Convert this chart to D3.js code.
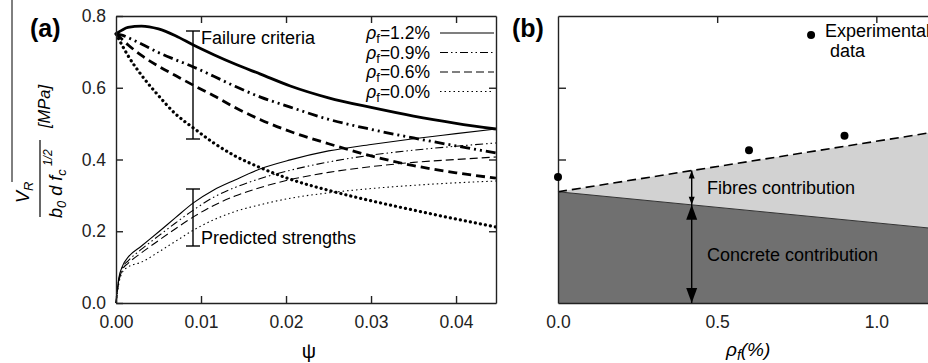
<!DOCTYPE html>
<html>
<head>
<meta charset="utf-8">
<script src="https://cdn.jsdelivr.net/npm/d3@7"></script>
<style>
  body { margin: 0; background: #fff; }
  svg { display: block; font-family: "Liberation Sans", Arial, sans-serif; }
</style>
</head>
<body>
<div id="chart"></div>
<script>
// ---- panel (a): shear strength vs psi ----
const psiGrid = [0, 0.0003, 0.0008, 0.0014, 0.003, 0.005, 0.007, 0.0091, 0.0115, 0.014, 0.017, 0.0205, 0.025, 0.03, 0.035, 0.04, 0.0447];

// failure criteria (thick lines)
const fail12 = [0.75, 0.755, 0.762, 0.768, 0.772, 0.764, 0.745, 0.719, 0.692, 0.666, 0.638, 0.605, 0.572, 0.545, 0.521, 0.501, 0.485];
const fail09 = [0.75, 0.749, 0.746, 0.74, 0.722, 0.698, 0.678, 0.658, 0.632, 0.604, 0.574, 0.546, 0.512, 0.484, 0.46, 0.438, 0.418];
const fail06 = [0.75, 0.744, 0.733, 0.72, 0.69, 0.66, 0.634, 0.607, 0.578, 0.545, 0.511, 0.478, 0.444, 0.41, 0.383, 0.363, 0.348];
const fail00 = [0.75, 0.737, 0.715, 0.69, 0.635, 0.578, 0.527, 0.488, 0.446, 0.41, 0.377, 0.345, 0.314, 0.285, 0.259, 0.234, 0.212];

// predicted strengths (thin lines)
const pred12 = [0, 0.065, 0.105, 0.127, 0.159, 0.198, 0.238, 0.279, 0.315, 0.343, 0.374, 0.399, 0.424, 0.442, 0.458, 0.472, 0.485];
const pred09 = [0, 0.06, 0.1, 0.117, 0.15, 0.187, 0.223, 0.259, 0.295, 0.322, 0.347, 0.37, 0.393, 0.412, 0.426, 0.437, 0.446];
const pred06 = [0, 0.055, 0.095, 0.11, 0.14, 0.174, 0.207, 0.24, 0.272, 0.298, 0.322, 0.344, 0.364, 0.38, 0.392, 0.4, 0.407];
const pred00 = [0, 0.05, 0.088, 0.1, 0.114, 0.142, 0.172, 0.203, 0.232, 0.255, 0.274, 0.292, 0.307, 0.319, 0.328, 0.335, 0.34];

const legendLabels = ["1.2%", "0.9%", "0.6%", "0.0%"];
const psiTicks = [0, 0.01, 0.02, 0.03, 0.04];
const vTicks = [0, 0.2, 0.4, 0.6, 0.8];

// ---- panel (b): contributions vs fibre ratio ----
const rhoLine = [0, 1.2];
const vTotal = [0.31, 0.479];
const vConcrete = [0.31, 0.206];
const expRho = [0, 0.6, 0.9];
const expV = [0.351, 0.426, 0.466];
const rhoTicks = [0, 0.5, 1.0];
const arrowRho = 0.42;

const W = 928, H = 363;
const svg = d3.select("#chart").append("svg")
  .attr("width", W).attr("height", H)
  .attr("viewBox", [0, 0, W, H]);

const xA = d3.scaleLinear().domain([0, 0.0447]).range([116, 496]);
const yA = d3.scaleLinear().domain([0, 0.8]).range([303, 16]);
const xB = d3.scaleLinear().domain([0, 1.2]).range([558, 940]);
const yB = yA.copy();

const FS = 17.5;

// thick styles for failure criteria, thin for predictions
const styles = [
  { thick: [], thin: [] },
  { thick: [10, 4, 2, 4, 2, 4], thin: [8, 3, 1.5, 3, 1.5, 3] },
  { thick: [9, 5], thin: [8, 4] },
  { thick: [0.1, 5], thin: [1.5, 3] }
];
const failSeries = [fail12, fail09, fail06, fail00];
const predSeries = [pred12, pred09, pred06, pred00];

const lineA = d3.line()
  .x(d => xA(d[0]))
  .y(d => yA(d[1]))
  .curve(d3.curveMonotoneX);

const gA = svg.append("g");

failSeries.forEach((s, i) => {
  gA.append("path")
    .attr("d", lineA(psiGrid.map((p, j) => [p, s[j]])))
    .attr("fill", "none")
    .attr("stroke", "#000")
    .attr("stroke-width", i == 3 ? 3.2 : 2.8)
    .attr("stroke-linecap", i == 3 ? "round" : "butt")
    .attr("stroke-dasharray", styles[i].thick.join(" "));
});

predSeries.forEach((s, i) => {
  gA.append("path")
    .attr("d", lineA(psiGrid.map((p, j) => [p, s[j]])))
    .attr("fill", "none")
    .attr("stroke", "#000")
    .attr("stroke-width", 1.1)
    .attr("stroke-dasharray", styles[i].thin.join(" "));
});

// axes, ticks pointing inward
const fmt2 = d3.format(".2f"), fmt1 = d3.format(".1f");
gA.append("g").attr("transform", "translate(0,303)")
  .call(d3.axisBottom(xA).tickValues(psiTicks).tickFormat(fmt2).tickSize(-7).tickSizeOuter(0).tickPadding(13));
gA.append("g").attr("transform", "translate(0,16)")
  .call(d3.axisTop(xA).tickValues(psiTicks.slice(1)).tickFormat("").tickSize(-7).tickSizeOuter(0));
gA.append("g").attr("transform", "translate(116,0)")
  .call(d3.axisLeft(yA).tickValues(vTicks).tickFormat(fmt1).tickSize(-7).tickSizeOuter(0).tickPadding(10));
gA.append("g").attr("transform", "translate(496,0)")
  .call(d3.axisRight(yA).tickValues(vTicks.slice(1, 4)).tickFormat("").tickSize(-7).tickSizeOuter(0));

// legend
legendLabels.forEach((lab, i) => {
  const y = 33 + i * 19.5;
  const t = gA.append("text").attr("x", 430).attr("y", y + 6)
    .attr("text-anchor", "end").attr("font-size", FS);
  t.append("tspan").attr("font-style", "italic").text("ρ");
  t.append("tspan").attr("font-size", 13).attr("dy", 4).text("f");
  t.append("tspan").attr("dy", -4).text("=" + lab);
  gA.append("line").attr("x1", 440).attr("x2", 494).attr("y1", y).attr("y2", y)
    .attr("stroke", "#000").attr("stroke-width", 1.1)
    .attr("stroke-dasharray", styles[i].thin.join(" "));
});

// range bars
function rangeBar(x, y1, y2) {
  gA.append("line").attr("x1", x).attr("x2", x).attr("y1", y1).attr("y2", y2).attr("stroke", "#000").attr("stroke-width", 1.4);
  [y1, y2].forEach(y => gA.append("line").attr("x1", x - 7).attr("x2", x + 7).attr("y1", y).attr("y2", y).attr("stroke", "#000").attr("stroke-width", 1.4));
}
rangeBar(193, 31, 139);
rangeBar(193, 189, 246);
gA.append("text").attr("x", 201).attr("y", 44).attr("font-size", 18).text("Failure criteria");
gA.append("text").attr("x", 201).attr("y", 244).attr("font-size", 18).text("Predicted strengths");

// y label
svg.append("line").attr("x1", 12).attr("x2", 12).attr("y1", 0).attr("y2", 182).attr("stroke", "#000").attr("stroke-width", 1);
const vr = svg.append("text").attr("transform", "translate(29,203) rotate(-90)").attr("font-size", 18).attr("font-style", "italic");
vr.append("tspan").text("V");
vr.append("tspan").attr("font-size", 13).attr("dy", 4).text("R");
svg.append("line").attr("x1", 40).attr("x2", 40).attr("y1", 140).attr("y2", 217).attr("stroke", "#000").attr("stroke-width", 1.2);
const den = svg.append("text").attr("transform", "translate(62,218) rotate(-90)").attr("font-size", 18).attr("font-style", "italic");
den.append("tspan").text("b");
den.append("tspan").attr("font-size", 13).attr("dy", 4).text("0");
den.append("tspan").attr("dy", -4).text(" d f");
den.append("tspan").attr("font-size", 13).attr("dy", 4).text("c");
den.append("tspan").attr("font-size", 12).attr("dy", -14).text(" 1/2");
svg.append("text").attr("transform", "translate(50,128) rotate(-90)").attr("font-size", 16.5).attr("font-style", "italic").text("[MPa]");

svg.append("text").attr("x", 30).attr("y", 37).attr("font-size", 25).attr("font-weight", "bold").text("(a)");
svg.append("text").attr("x", 309).attr("y", 358).attr("text-anchor", "middle").attr("font-size", 20).text("ψ");

// ---- panel (b) ----
const gB = svg.append("g");
const rows = rhoLine.map((r, i) => ({ r, total: vTotal[i], conc: vConcrete[i] }));

gB.append("path")
  .attr("d", d3.area().x(d => xB(d.r)).y0(d => yB(d.conc)).y1(d => yB(d.total))(rows))
  .attr("fill", "#d2d2d2");
gB.append("path")
  .attr("d", d3.area().x(d => xB(d.r)).y0(yB(0)).y1(d => yB(d.conc))(rows))
  .attr("fill", "#707070");
gB.append("path")
  .attr("d", d3.line().x(d => xB(d.r)).y(d => yB(d.conc))(rows))
  .attr("fill", "none").attr("stroke", "#333").attr("stroke-width", 1);
gB.append("path")
  .attr("d", d3.line().x(d => xB(d.r)).y(d => yB(d.total))(rows))
  .attr("fill", "none").attr("stroke", "#000").attr("stroke-width", 1.6).attr("stroke-dasharray", "9 5");

gB.append("g").attr("transform", "translate(0,303)")
  .call(d3.axisBottom(xB).tickValues(rhoTicks).tickFormat(fmt1).tickSize(0).tickSizeOuter(0).tickPadding(13));
gB.append("g").attr("transform", "translate(0,16)")
  .call(d3.axisTop(xB).tickValues(rhoTicks.slice(1)).tickFormat("").tickSize(-7).tickSizeOuter(0));
gB.append("g").attr("transform", "translate(558,0)")
  .call(d3.axisLeft(yB).tickValues([0.4, 0.6]).tickFormat("").tickSize(-8).tickSizeOuter(0));

// arrows
const ax = xB(arrowRho);
const yTop = yB(vTotal[0] + (vTotal[1] - vTotal[0]) * arrowRho / 1.2);
const yMid = yB(vConcrete[0] + (vConcrete[1] - vConcrete[0]) * arrowRho / 1.2);
const yBot = yB(0);
function head(x, y, dir, w, h) {
  gB.append("path").attr("d", `M${x},${y} L${x - w / 2},${y + dir * h} L${x + w / 2},${y + dir * h} Z`).attr("fill", "#000");
}
gB.append("line").attr("x1", ax).attr("x2", ax).attr("y1", yTop).attr("y2", yBot).attr("stroke", "#000").attr("stroke-width", 1.4);
head(ax, yTop, 1, 6, 8);
head(ax, yMid, -1, 6, 8);
head(ax, yMid, 1, 11, 15);
head(ax, yBot, -1, 11, 15);

gB.selectAll("circle.exp")
  .data(expRho.map((r, i) => [r, expV[i]]))
  .join("circle").attr("class", "exp")
  .attr("cx", d => xB(d[0])).attr("cy", d => yB(d[1])).attr("r", 4).attr("fill", "#000");

gB.append("text").attr("x", 707).attr("y", 194).attr("font-size", 18).text("Fibres contribution");
gB.append("text").attr("x", 707).attr("y", 261).attr("font-size", 18).text("Concrete contribution");
gB.append("circle").attr("cx", xB(0.795)).attr("cy", yB(0.747)).attr("r", 4).attr("fill", "#000");
gB.append("text").attr("x", 825).attr("y", 37).attr("font-size", 18).text("Experimental");
gB.append("text").attr("x", 830).attr("y", 57).attr("font-size", 18).text("data");

svg.append("text").attr("x", 512).attr("y", 37).attr("font-size", 25).attr("font-weight", "bold").text("(b)");
const rl = svg.append("text").attr("x", 726).attr("y", 356).attr("font-size", 19).attr("font-style", "italic");
rl.append("tspan").text("ρ");
rl.append("tspan").attr("font-size", 14).attr("dy", 4).text("f");
rl.append("tspan").attr("dy", -4).text("(%)");

svg.selectAll(".tick text").attr("font-size", FS).attr("fill", "#222");
svg.selectAll(".domain, .tick line").attr("stroke", "#222").attr("stroke-width", 1.4);
</script>
</body>
</html>
